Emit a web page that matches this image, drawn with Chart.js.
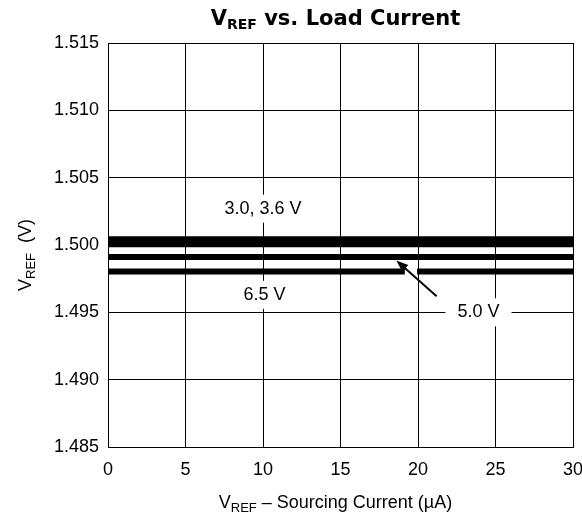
<!DOCTYPE html>
<html>
<head>
<meta charset="utf-8">
<script src="https://cdn.jsdelivr.net/npm/chart.js@4.4.1/dist/chart.umd.min.js"></script>
<style>
  html, body { margin: 0; padding: 0; background: #fff; }
  #wrap { width: 582px; height: 519px; }
</style>
</head>
<body>
<div id="wrap"><canvas id="vrefChart" width="582" height="519"></canvas></div>
<script>
// data
var currentUA = [0, 30];
var vref30 = [1.50042, 1.50042];
var vref36 = [1.50005, 1.50005];
var vref50 = [1.49911, 1.49911];
// the 6.5 V trace is broken where the 5.0 V arrow passes through
var current65 = [0, 19.15, 19.16, 19.94, 30];
var vref65 = [1.49803, 1.49803, null, 1.49803, 1.49803];

var xTicks = [0, 5, 10, 15, 20, 25, 30];
var yTicks = [1.485, 1.490, 1.495, 1.500, 1.505, 1.510, 1.515];

// label positions in data units
var notes = [
    { text: "3.0, 3.6 V", x: 10, y: 1.5027 },
    { text: "6.5 V", x: 10.1, y: 1.4963 },
    { text: "5.0 V", x: 23.9, y: 1.4950 }
];
var arrowFrom = [21.2, 1.4962];
var arrowTo = [18.6, 1.49885];

var FONT = "'Liberation Sans', Arial, Helvetica, sans-serif";
var HEAVY = "'DejaVu Sans', 'Liberation Sans', sans-serif";

function toPoints(xs, ys) {
    var pts = [];
    for (var i = 0; i < xs.length; i++) {
        pts.push({ x: xs[i], y: ys[i] });
    }
    return pts;
}

function lineSet(label, xs, ys) {
    return {
        label: label,
        data: toPoints(xs, ys),
        borderColor: "#000",
        borderWidth: 6,
        borderCapStyle: "butt",
        pointRadius: 0,
        spanGaps: false,
        tension: 0
    };
}

// text with a subscript part
function subText(ctx, parts, x, y, align) {
    var w = 0;
    parts.forEach(function (p) {
        ctx.font = p.font;
        w += ctx.measureText(p.t).width;
    });
    var cx = align === "center" ? x - w / 2 : x;
    ctx.textAlign = "left";
    ctx.textBaseline = "alphabetic";
    parts.forEach(function (p) {
        ctx.font = p.font;
        ctx.fillText(p.t, cx, y + (p.dy || 0));
        cx += ctx.measureText(p.t).width;
    });
    return w;
}

var textPlugin = {
    id: "vrefText",
    afterDraw: function (chart) {
        var ctx = chart.ctx;
        var xs = chart.scales.x, ys = chart.scales.y;
        var area = chart.chartArea;
        var mid = (area.left + area.right) / 2;
        ctx.save();
        ctx.fillStyle = "#000";

        // title
        subText(ctx, [
            { t: "V", font: "bold 21px " + HEAVY },
            { t: "REF", font: "bold 14px " + HEAVY, dy: 4 },
            { t: " vs. Load Current", font: "bold 21px " + HEAVY }
        ], mid - 5, 25, "center");

        // x axis title
        subText(ctx, [
            { t: "V", font: "18px " + FONT },
            { t: "REF", font: "13px " + FONT, dy: 4 },
            { t: " \u2013 Sourcing Current (\u00b5A)", font: "18px " + FONT }
        ], mid - 5, 508, "center");

        // y axis title, rotated
        ctx.save();
        ctx.translate(31, 255);
        ctx.rotate(-Math.PI / 2);
        subText(ctx, [
            { t: "V", font: "18px " + FONT },
            { t: "REF", font: "13px " + FONT, dy: 4 },
            { t: "  (V)", font: "18px " + FONT }
        ], 0, 0, "center");
        ctx.restore();

        // curve labels on white boxes
        ctx.font = "18px " + FONT;
        ctx.textAlign = "center";
        ctx.textBaseline = "middle";
        notes.forEach(function (n) {
            var px = xs.getPixelForValue(n.x);
            var py = ys.getPixelForValue(n.y);
            var w = ctx.measureText(n.text).width;
            ctx.fillStyle = "#fff";
            ctx.fillRect(px - w / 2 - 12, py - 14, w + 24, 28);
            ctx.fillStyle = "#000";
            ctx.fillText(n.text, px, py);
        });

        // arrow to the 5.0 V trace
        var x1 = xs.getPixelForValue(arrowFrom[0]), y1 = ys.getPixelForValue(arrowFrom[1]);
        var x2 = xs.getPixelForValue(arrowTo[0]), y2 = ys.getPixelForValue(arrowTo[1]);
        var ang = Math.atan2(y2 - y1, x2 - x1);
        ctx.strokeStyle = "#000";
        ctx.lineWidth = 2;
        ctx.beginPath();
        ctx.moveTo(x1, y1);
        ctx.lineTo(x2 - 8 * Math.cos(ang), y2 - 8 * Math.sin(ang));
        ctx.stroke();
        ctx.beginPath();
        ctx.moveTo(x2, y2);
        ctx.lineTo(x2 - 12 * Math.cos(ang) + 4.5 * Math.sin(ang), y2 - 12 * Math.sin(ang) - 4.5 * Math.cos(ang));
        ctx.lineTo(x2 - 12 * Math.cos(ang) - 4.5 * Math.sin(ang), y2 - 12 * Math.sin(ang) + 4.5 * Math.cos(ang));
        ctx.closePath();
        ctx.fill();
        ctx.restore();
    }
};

function makeChart() {
    var grid = { color: "#000", lineWidth: 1, drawTicks: false };
    var border = { color: "#000", width: 1 };
    new Chart(document.getElementById("vrefChart"), {
        type: "line",
        data: {
            datasets: [
                lineSet("3.0 V", currentUA, vref30),
                lineSet("3.6 V", currentUA, vref36),
                lineSet("5.0 V", currentUA, vref50),
                lineSet("6.5 V", current65, vref65)
            ]
        },
        options: {
            responsive: false,
            animation: false,
            layout: { padding: { left: 0, right: 9, top: 43, bottom: 0 } },
            plugins: { legend: { display: false }, tooltip: { enabled: false }, title: { display: false } },
            scales: {
                x: {
                    type: "linear",
                    min: 0, max: 30,
                    grid: grid, border: border,
                    afterBuildTicks: function (s) { s.ticks = xTicks.map(function (v) { return { value: v }; }); },
                    afterFit: function (s) { s.height = 72; s.paddingLeft = 0; s.paddingRight = 0; },
                    ticks: { color: "#000", padding: 12, maxRotation: 0, font: { family: FONT, size: 18 } }
                },
                y: {
                    min: 1.485, max: 1.515,
                    grid: grid, border: border,
                    afterBuildTicks: function (s) { s.ticks = yTicks.map(function (v) { return { value: v }; }); },
                    afterFit: function (s) { s.width = 108; s.paddingTop = 0; s.paddingBottom = 0; },
                    ticks: {
                        color: "#000", padding: 9, font: { family: FONT, size: 18 },
                        callback: function (v) { return Number(v).toFixed(3); }
                    }
                }
            }
        },
        plugins: [textPlugin]
    });
}

makeChart();
</script>
</body>
</html>
